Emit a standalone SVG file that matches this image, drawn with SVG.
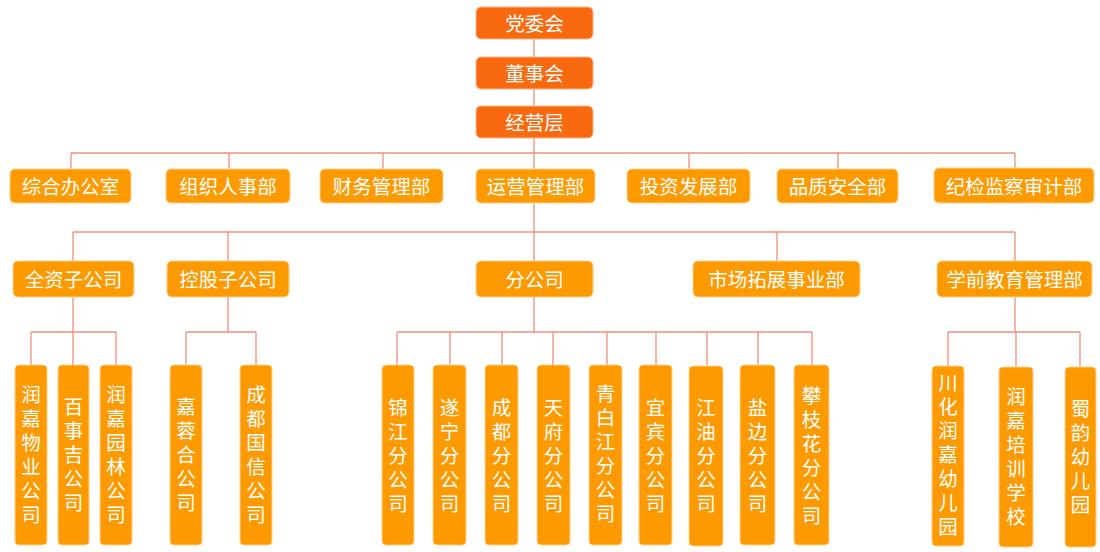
<svg xmlns="http://www.w3.org/2000/svg" width="1100" height="552" viewBox="0 0 1100 552">
<style>
.top{fill:#F96A10;stroke:#FBB58A;stroke-width:1}
.box{fill:#FD9A02;stroke:#FDD08A;stroke-width:1}
.t{font-family:"Liberation Sans","Noto Sans CJK SC",sans-serif;font-size:19.5px;fill:#FFFFFF;text-anchor:middle;dominant-baseline:central}
.ln{stroke:#F0907E;stroke-width:1.3;fill:none}
</style>
<rect width="1100" height="552" fill="#FFFFFF"/>
<g id="connectors" class="ln">
<path d="M534 39V57M534 89V106M534 138V169M71 153H1015M71 153V169M229 153V169M383 153V169M689 153V169M838 153V169M1015 153V169"/>
<path d="M534 203V261M73 232H1015M73 232V261M228 232V261M777 232V261M1015 232V261"/>
<path d="M73 297V365M31 332H116M31 332V365M116 332V365"/>
<path d="M228 297V332M186 332H256M186 332V365M256 332V365"/>
<path d="M534 297V332M397 332H812M397 332V365M450 332V365M502 332V365M553 332V365M607 332V365M656 332V365M707 332V365M758 332V365M812 332V365"/>
<path d="M1015 297V332M948 332H1080M948 332V366M1016 332V366M1080 332V366"/>
</g>
<g id="n-dangweihui"><rect class="top" x="476" y="7" width="117" height="32" rx="5"/><text class="t" x="534.5" y="24">党委会</text></g>
<g id="n-dongshihui"><rect class="top" x="476" y="57" width="117" height="32" rx="5"/><text class="t" x="534.5" y="74">董事会</text></g>
<g id="n-jingyingceng"><rect class="top" x="476" y="106" width="117" height="32" rx="5"/><text class="t" x="534.5" y="123">经营层</text></g>

<g id="n-zonghe"><rect class="box" x="10" y="169" width="121" height="34" rx="5"/><text class="t" x="70.5" y="187">综合办公室</text></g>
<g id="n-zuzhi"><rect class="box" x="166" y="169" width="124" height="34" rx="5"/><text class="t" x="228" y="187">组织人事部</text></g>
<g id="n-caiwu"><rect class="box" x="320" y="169" width="123" height="34" rx="5"/><text class="t" x="381.5" y="187">财务管理部</text></g>
<g id="n-yunying"><rect class="box" x="476" y="169" width="119" height="34" rx="5"/><text class="t" x="535.5" y="187">运营管理部</text></g>
<g id="n-touzi"><rect class="box" x="627" y="169" width="123" height="34" rx="5"/><text class="t" x="688.5" y="187">投资发展部</text></g>
<g id="n-pinzhi"><rect class="box" x="777" y="169" width="121" height="34" rx="5"/><text class="t" x="837.5" y="187">品质安全部</text></g>
<g id="n-jijian"><rect class="box" x="934" y="168" width="160" height="35" rx="5"/><text class="t" x="1014" y="186.5">纪检监察审计部</text></g>

<g id="n-quanzi"><rect class="box" x="13" y="261" width="121" height="36" rx="5"/><text class="t" x="73.5" y="280">全资子公司</text></g>
<g id="n-konggu"><rect class="box" x="167" y="261" width="122" height="36" rx="5"/><text class="t" x="228" y="280">控股子公司</text></g>
<g id="n-fengongsi"><rect class="box" x="476" y="261" width="117" height="36" rx="5"/><text class="t" x="534.5" y="280">分公司</text></g>
<g id="n-shichang"><rect class="box" x="693" y="261" width="167" height="36" rx="5"/><text class="t" x="776.5" y="280">市场拓展事业部</text></g>
<g id="n-xueqian"><rect class="box" x="937" y="261" width="155" height="36" rx="5"/><text class="t" x="1014.5" y="280">学前教育管理部</text></g>

<g id="n-wuye"><rect class="box" x="15" y="365" width="32" height="180" rx="4"/><text class="t"><tspan x="31" y="395">润</tspan><tspan x="31" y="419">嘉</tspan><tspan x="31" y="443">物</tspan><tspan x="31" y="467">业</tspan><tspan x="31" y="491">公</tspan><tspan x="31" y="515">司</tspan></text></g>
<g id="n-baishiji"><rect class="box" x="58" y="365" width="31" height="180" rx="4"/><text class="t"><tspan x="73.5" y="407">百</tspan><tspan x="73.5" y="431">事</tspan><tspan x="73.5" y="455">吉</tspan><tspan x="73.5" y="479">公</tspan><tspan x="73.5" y="503">司</tspan></text></g>
<g id="n-yuanlin"><rect class="box" x="100" y="365" width="32" height="180" rx="4"/><text class="t"><tspan x="116" y="395">润</tspan><tspan x="116" y="419">嘉</tspan><tspan x="116" y="443">园</tspan><tspan x="116" y="467">林</tspan><tspan x="116" y="491">公</tspan><tspan x="116" y="515">司</tspan></text></g>
<g id="n-jiarong"><rect class="box" x="170" y="365" width="32" height="180" rx="4"/><text class="t"><tspan x="186" y="407">嘉</tspan><tspan x="186" y="431">蓉</tspan><tspan x="186" y="455">合</tspan><tspan x="186" y="479">公</tspan><tspan x="186" y="503">司</tspan></text></g>
<g id="n-guoxin"><rect class="box" x="240" y="365" width="32" height="180" rx="4"/><text class="t"><tspan x="256" y="395">成</tspan><tspan x="256" y="419">都</tspan><tspan x="256" y="443">国</tspan><tspan x="256" y="467">信</tspan><tspan x="256" y="491">公</tspan><tspan x="256" y="515">司</tspan></text></g>

<g id="n-jinjiang"><rect class="box" x="382" y="365" width="32" height="180" rx="4"/><text class="t"><tspan x="398" y="408">锦</tspan><tspan x="398" y="432">江</tspan><tspan x="398" y="456">分</tspan><tspan x="398" y="480">公</tspan><tspan x="398" y="504">司</tspan></text></g>
<g id="n-suining"><rect class="box" x="433" y="365" width="33" height="180" rx="4"/><text class="t"><tspan x="449.5" y="408">遂</tspan><tspan x="449.5" y="432">宁</tspan><tspan x="449.5" y="456">分</tspan><tspan x="449.5" y="480">公</tspan><tspan x="449.5" y="504">司</tspan></text></g>
<g id="n-chengdu"><rect class="box" x="485" y="365" width="33" height="180" rx="4"/><text class="t"><tspan x="501.5" y="408">成</tspan><tspan x="501.5" y="432">都</tspan><tspan x="501.5" y="456">分</tspan><tspan x="501.5" y="480">公</tspan><tspan x="501.5" y="504">司</tspan></text></g>
<g id="n-tianfu"><rect class="box" x="537" y="365" width="33" height="180" rx="4"/><text class="t"><tspan x="553.5" y="408">天</tspan><tspan x="553.5" y="432">府</tspan><tspan x="553.5" y="456">分</tspan><tspan x="553.5" y="480">公</tspan><tspan x="553.5" y="504">司</tspan></text></g>
<g id="n-qingbaijiang"><rect class="box" x="589" y="365" width="33" height="180" rx="4"/><text class="t"><tspan x="605.5" y="394">青</tspan><tspan x="605.5" y="418">白</tspan><tspan x="605.5" y="442">江</tspan><tspan x="605.5" y="466">分</tspan><tspan x="605.5" y="490">公</tspan><tspan x="605.5" y="514">司</tspan></text></g>
<g id="n-yibin"><rect class="box" x="639" y="365" width="33" height="180" rx="4"/><text class="t"><tspan x="655.5" y="408">宜</tspan><tspan x="655.5" y="432">宾</tspan><tspan x="655.5" y="456">分</tspan><tspan x="655.5" y="480">公</tspan><tspan x="655.5" y="504">司</tspan></text></g>
<g id="n-jiangyou"><rect class="box" x="689" y="366" width="34" height="180" rx="4"/><text class="t"><tspan x="706" y="408">江</tspan><tspan x="706" y="432">油</tspan><tspan x="706" y="456">分</tspan><tspan x="706" y="480">公</tspan><tspan x="706" y="504">司</tspan></text></g>
<g id="n-yanbian"><rect class="box" x="740" y="365" width="35" height="180" rx="4"/><text class="t"><tspan x="757.5" y="408">盐</tspan><tspan x="757.5" y="432">边</tspan><tspan x="757.5" y="456">分</tspan><tspan x="757.5" y="480">公</tspan><tspan x="757.5" y="504">司</tspan></text></g>
<g id="n-panzhihua"><rect class="box" x="794" y="365" width="35" height="180" rx="4"/><text class="t"><tspan x="811.5" y="396">攀</tspan><tspan x="811.5" y="420">枝</tspan><tspan x="811.5" y="444">花</tspan><tspan x="811.5" y="468">分</tspan><tspan x="811.5" y="492">公</tspan><tspan x="811.5" y="516">司</tspan></text></g>

<g id="n-chuanhua"><rect class="box" x="932" y="366" width="32" height="180" rx="4"/><text class="t"><tspan x="948" y="383">川</tspan><tspan x="948" y="407">化</tspan><tspan x="948" y="431">润</tspan><tspan x="948" y="455">嘉</tspan><tspan x="948" y="479">幼</tspan><tspan x="948" y="503">儿</tspan><tspan x="948" y="527">园</tspan></text></g>
<g id="n-peixun"><rect class="box" x="999" y="367" width="34" height="180" rx="4"/><text class="t"><tspan x="1016" y="397">润</tspan><tspan x="1016" y="421">嘉</tspan><tspan x="1016" y="445">培</tspan><tspan x="1016" y="469">训</tspan><tspan x="1016" y="493">学</tspan><tspan x="1016" y="517">校</tspan></text></g>
<g id="n-shuyun"><rect class="box" x="1065" y="367" width="31" height="180" rx="4"/><text class="t"><tspan x="1080.5" y="409">蜀</tspan><tspan x="1080.5" y="433">韵</tspan><tspan x="1080.5" y="457">幼</tspan><tspan x="1080.5" y="481">儿</tspan><tspan x="1080.5" y="505">园</tspan></text></g>
</svg>
